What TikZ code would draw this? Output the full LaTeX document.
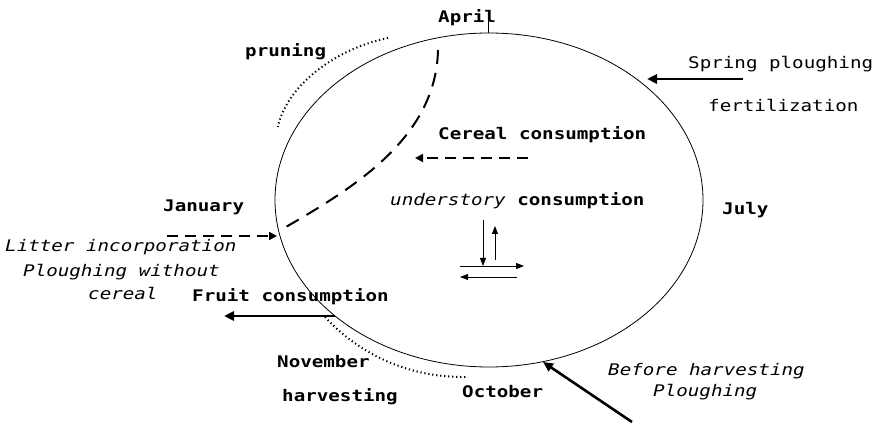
\documentclass[tikz,border=0pt]{standalone}
\usepackage{fontspec}
\newfontfamily\monof[FakeStretch=1.2]{DejaVu Sans Mono}
\usetikzlibrary{arrows.meta,shapes.geometric}
\begin{document}
\begin{tikzpicture}[x=1pt,y=-1pt,
  lbl/.style={anchor=base west,inner sep=0pt,font=\monof\fontsize{16}{19}\selectfont},
  blbl/.style={lbl,font=\monof\bfseries\fontsize{16}{19}\selectfont},
  ilbl/.style={lbl,font=\monof\itshape\fontsize{16}{19}\selectfont},
  thin/.style={line width=0.8pt},
  thickarr/.style={line width=2.6pt,-{Triangle[length=10pt,width=9pt]}},
  dasharr/.style={line width=2.2pt,dash pattern=on 11pt off 7pt,-{Triangle[length=8pt,width=8pt]}},
  smallarr/.style={line width=0.9pt,-{Triangle[length=8pt,width=6pt]}},
  dotline/.style={line width=2pt,dash pattern=on 1.2pt off 2.8pt}
]
\useasboundingbox (0,0) rectangle (878,427);
% cycle
\node[draw,thin,ellipse,minimum width=428pt,minimum height=334pt,inner sep=0pt,outer sep=0pt] (cyc) at (489,200) {};
% April tick
\coordinate (tickA) at (488,33);
\coordinate (tickB) at (488,12);
\draw[thin] (tickA) -- (tickB);
% labels
\node[blbl] (april) at (438,23) {April};
\node[blbl] (pruning) at (245,57) {pruning};
\node[blbl] (cereal) at (438,140) {Cereal consumption};
\node[lbl] (under) at (390,206) {\itshape understory\upshape\bfseries{} consumption};
\node[blbl] (july) at (722,215) {July};
\node[lbl] (spring) at (688,69) {Spring ploughing};
\node[lbl] (fert) at (708,112) {fertilization};
\node[blbl] (jan) at (163,212) {January};
\node[ilbl] (litter) at (5,252) {Litter incorporation};
\node[ilbl] (plough1) at (23,277) {Ploughing without};
\node[ilbl] (plough2) at (88,300) {cereal};
\node[blbl] (fruit) at (192,302) {Fruit consumption};
\node[blbl] (nov) at (277,368) {November};
\node[blbl] (harv) at (282,402) {harvesting};
\node[blbl] (oct) at (462,397) {October};
\node[ilbl] (before) at (608,376) {Before harvesting};
\node[ilbl] (plough3) at (653,396) {Ploughing};
% long dashed curve
\coordinate (dcA) at (438,50);
\coordinate (dcB) at (279,231);
\draw[line width=2pt,dash pattern=on 14pt off 9pt] (dcA) .. controls (436,140) and (350,190) .. (dcB);
% pruning dotted
\coordinate (prA) at (388,38);
\coordinate (prB) at (278,127);
\draw[dotline] (prA) .. controls (330,50) and (285,90) .. (prB);
% harvesting dotted
\coordinate (hvA) at (325,317);
\coordinate (hvB) at (467,377);
\draw[dotline] (hvA) .. controls (360,355) and (410,378) .. (hvB);
% spring arrow
\coordinate (spS) at (743,79);
\coordinate (spE) at (647,79);
\draw[thickarr] (spS) -- (spE);
% fruit arrow
\coordinate (frS) at (335,316);
\coordinate (frE) at (224,316);
\draw[thickarr] (frS) -- (frE);
% before harvesting arrow
\coordinate (bhS) at (632,422);
\coordinate (bhE) at (543,362);
\draw[thickarr] (bhS) -- (bhE);
% january dashed arrow
\coordinate (jaS) at (167,236);
\coordinate (jaE) at (277,236);
\draw[dasharr] (jaS) -- (jaE);
% cereal dashed arrow
\coordinate (ceS) at (528,158);
\coordinate (ceE) at (415,158);
\draw[dasharr] (ceS) -- (ceE);
% small arrows
\coordinate (s1a) at (483,220); \coordinate (s1b) at (483,266);
\coordinate (s2a) at (495,260); \coordinate (s2b) at (495,226);
\coordinate (s3a) at (460,266); \coordinate (s3b) at (524,266);
\coordinate (s4a) at (517,277); \coordinate (s4b) at (460,277);
\draw[smallarr] (s1a) -- (s1b);
\draw[smallarr] (s2a) -- (s2b);
\draw[smallarr] (s3a) -- (s3b);
\draw[smallarr] (s4a) -- (s4b);
\end{tikzpicture}
\end{document}
